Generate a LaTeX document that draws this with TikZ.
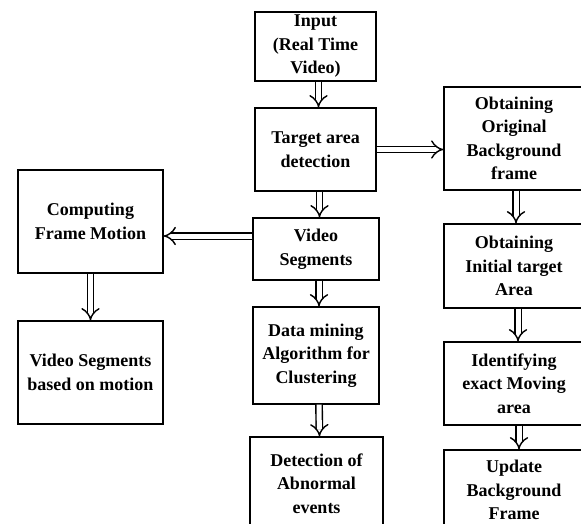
\documentclass[tikz,border=0pt]{standalone}
\usepackage{fontspec}
\setmainfont{Liberation Serif}
\usetikzlibrary{arrows.meta,calc}
\begin{document}
\begin{tikzpicture}[x=1pt,y=-1pt,
  box/.style={draw, line width=1.3pt, align=center, inner sep=0pt,
    font=\bfseries\fontsize{18}{23.5}\selectfont},
  flow/.style={draw, double=white, double distance=5pt, line width=1.4pt, -{Implies}}]
\useasboundingbox (0,0) rectangle (581,524);
\clip (0,0) rectangle (581,524);
\node[box, minimum width=121pt, minimum height=69pt] (in) at (315.5,46.5) {Input\\(Real Time\\Video)};
\node[box, minimum width=121pt, minimum height=83pt] (ta) at (315.5,149.5) {Target area\\detection};
\node[box, minimum width=126pt, minimum height=62pt] (vs) at (316,249) {Video\\Segments};
\node[box, minimum width=126pt, minimum height=97pt] (dm) at (316,355.5) {Data mining\\Algorithm for\\Clustering};
\node[box, minimum width=133pt, minimum height=93pt] (de) at (316.5,483.5) {Detection of\\Abnormal\\events};
\node[box, minimum width=145pt, minimum height=103pt] (cf) at (90.5,221.5) {Computing\\Frame Motion};
\node[box, minimum width=145pt, minimum height=103pt] (vm) at (90.5,372.5) {Video Segments\\based on motion};
\node[box, minimum width=140pt, minimum height=103pt] (oo) at (514,138.5) {Obtaining\\Original\\Background\\frame};
\node[box, minimum width=140pt, minimum height=84pt] (oi) at (514,266) {Obtaining\\Initial target\\Area};
\node[box, minimum width=140pt, minimum height=83pt] (im) at (514,383.5) {Identifying\\exact Moving\\area};
\node[box, minimum width=140pt, minimum height=80pt] (ub) at (514,490) {Update\\Background\\Frame};
\draw[flow] ([xshift=3pt]in.south) -- ([xshift=3pt]ta.north);
\draw[flow] (ta.east) -- (ta.east -| oo.west);
\draw[flow] ([xshift=4pt]ta.south) -- ([xshift=4pt]ta.south |- vs.north);
\draw[flow] ([yshift=13pt]vs.west) -- ([yshift=13pt]vs.west -| cf.east);
\draw[flow] (cf.south) -- (vm.north);
\draw[flow] ([xshift=3pt]vs.south) -- ([xshift=3pt]dm.north);
\draw[flow] ([xshift=3pt]dm.south) -- ([xshift=3pt]de.north);
\draw[flow] ([xshift=2pt]oo.south) -- ([xshift=2pt]oi.north);
\draw[flow] ([xshift=4pt]oi.south) -- ([xshift=4pt]im.north);
\draw[flow] ([xshift=5pt]im.south) -- ([xshift=5pt]ub.north);
\end{tikzpicture}
\end{document}
